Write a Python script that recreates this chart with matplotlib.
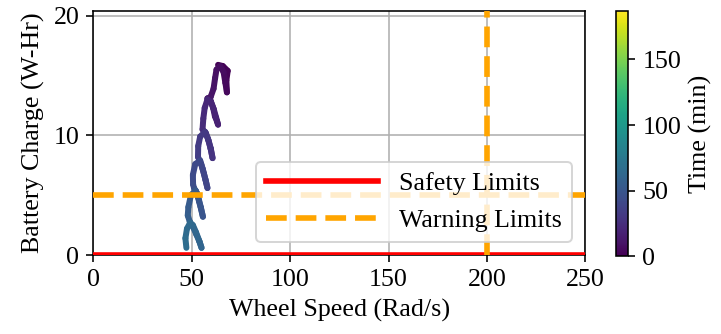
import numpy as np
import matplotlib
matplotlib.use("Agg")
import matplotlib.pyplot as plt
from matplotlib.collections import LineCollection
from matplotlib.colors import Normalize

plt.rcParams['font.family'] = ['Liberation Serif', 'DejaVu Serif']
plt.rcParams['font.size'] = 13

# wheel speed (rad/s), battery charge (W-Hr) and elapsed time (min) along the trace
speed = [63.4, 65.8, 68.3, 67.6, 67.9, 67.1, 66.2, 64.4, 62.6, 61.9, 61.1, 59.6,
         58.0, 59.6, 60.9, 61.8, 62.8, 63.4, 62.4, 61.2, 59.8, 58.0, 56.6, 55.9,
         55.5, 57.2, 58.5, 59.7, 60.6, 59.6, 58.3, 56.8, 54.3, 53.3,
         53.2, 54.8, 56.2, 57.3, 58.0, 57.0, 55.6, 54.3, 51.8, 50.6, 50.7,
         51.2, 52.6, 53.7, 54.7, 55.7, 54.6, 53.4, 52.0, 49.6, 48.3, 48.0,
         49.0, 50.8, 52.4, 54.0, 55.0, 53.8, 52.2, 50.6, 49.2, 47.6, 46.8, 47.3]
charge = [15.9, 15.8, 15.4, 14.6, 13.6, 14.4, 15.3, 15.8, 15.5, 14.8, 13.9, 13.2,
          13.1, 12.9, 12.3, 11.6, 11.2, 10.9, 11.5, 12.2, 12.8, 13.0, 12.3, 11.4,
          10.5, 10.2, 9.6, 8.9, 8.1, 8.9, 9.7, 10.3, 9.9, 9.1,
          8.2, 7.6, 6.8, 6.1, 5.6, 6.3, 7.2, 7.9, 7.6, 6.7, 5.9,
          5.6, 5.2, 4.5, 3.9, 3.2, 4.0, 4.8, 5.4, 5.0, 4.0, 3.3,
          2.8, 2.3, 1.7, 1.1, 0.6, 1.2, 1.9, 2.5, 2.7, 2.2, 1.4, 0.6]
minutes = [0, 1, 2, 3, 4, 5, 6, 7, 8, 9, 10, 11,
           12, 13, 14, 15, 16, 17, 18, 19, 20, 21, 22, 23,
           24, 25, 26, 27, 28, 29, 30, 31, 32, 33,
           34, 35, 36, 37, 38, 39, 40, 41, 42, 43, 44,
           45, 46, 47, 48, 49, 50, 51, 52, 53, 54, 55,
           56, 57, 58, 59, 60, 61, 62, 63, 64, 65, 66, 67]
t_max = 187

safety_charge = 0
warning_charge = 5
warning_speed = 200

fig = plt.figure(figsize=(721 / 144, 334 / 144), dpi=144)
ax = fig.add_axes([0.1294, 0.2365, 0.6824, 0.7305])
cax = fig.add_axes([0.8544, 0.2335, 0.0173, 0.7335])

pts = np.column_stack([speed, charge]).reshape(-1, 1, 2)
segs = np.concatenate([pts[:-1], pts[1:]], axis=1)
norm = Normalize(0, t_max)
lc = LineCollection(segs, cmap='viridis', norm=norm, linewidth=3.0,
                    capstyle='round', joinstyle='round')
lc.set_array(np.array(minutes[:-1], dtype=float))
ax.add_collection(lc)

# limits drawn above the spine like in the original
ax.axhline(safety_charge, color='red', lw=2.8, label='Safety Limits', zorder=3)
ax.axhline(warning_charge, color='orange', ls='--', lw=2.8, label='Warning Limits', zorder=3)
ax.axvline(warning_speed, color='orange', ls='--', lw=2.8, zorder=3)

ax.set_xlim(0, 250)
ax.set_ylim(0, 20.4)
ax.set_xticks([0, 50, 100, 150, 200, 250])
ax.set_yticks([0, 10, 20])
ax.grid(True)
ax.set_axisbelow(True)
ax.set_xlabel('Wheel Speed (Rad/s)')
ax.set_ylabel('Battery Charge (W-Hr)')
ax.legend(loc='lower right', handlelength=4.3)

cb = fig.colorbar(lc, cax=cax)
cb.set_ticks([0, 50, 100, 150])
cb.set_label('Time (min)')

fig.savefig('out.png', dpi=144)
